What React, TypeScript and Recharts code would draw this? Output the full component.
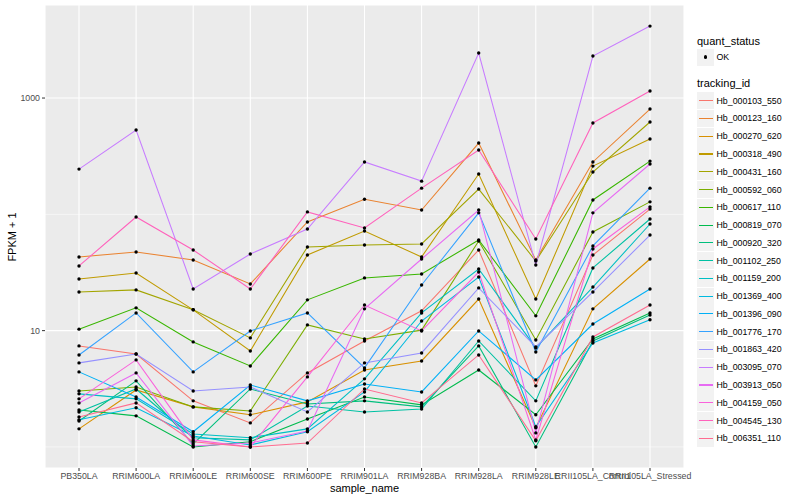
import React from "react";
import { CartesianGrid, ComposedChart, Line, ReferenceLine, XAxis, YAxis } from "recharts";

const samples = [
  "PB350LA",
  "RRIM600LA",
  "RRIM600LE",
  "RRIM600SE",
  "RRIM600PE",
  "RRIM901LA",
  "RRIM928BA",
  "RRIM928LA",
  "RRIM928LE",
  "RRII105LA_Control",
  "RRII105LA_Stressed",
];

const trackingIds = [
  "Hb_000103_550",
  "Hb_000123_160",
  "Hb_000270_620",
  "Hb_000318_490",
  "Hb_000431_160",
  "Hb_000592_060",
  "Hb_000617_110",
  "Hb_000819_070",
  "Hb_000920_320",
  "Hb_001102_250",
  "Hb_001159_200",
  "Hb_001369_400",
  "Hb_001396_090",
  "Hb_001776_170",
  "Hb_001863_420",
  "Hb_003095_070",
  "Hb_003913_050",
  "Hb_004159_050",
  "Hb_004545_130",
  "Hb_006351_110",
];

const palette = [
  "#F8766D", "#EA8331", "#D89000", "#C09B00", "#A3A500",
  "#7CAE00", "#39B600", "#00BB4E", "#00BF7D", "#00C1A3",
  "#00BFC4", "#00BAE0", "#00B0F6", "#35A2FF", "#9590FF",
  "#C77CFF", "#E76BF3", "#FA62DB", "#FF62BC", "#FF6C90",
];

// FPKM + 1, one value per sample
const hb000103_550 = [7.39, 6.3, 2.49, 1.61, 4.33, 8.15, 14.8, 49.4, 3.35, 44.7, 111];
const hb000123_160 = [43.0, 47.5, 40.5, 25.2, 86.0, 135, 109, 410, 40.5, 282, 804];
const hb000270_620 = [1.43, 3.09, 2.21, 1.89, 2.44, 4.59, 5.49, 18.7, 1.46, 15.4, 41.3];
const hb000318_490 = [27.8, 31.3, 15.1, 6.69, 44.7, 71.9, 43.0, 222, 18.7, 260, 444];
const hb000431_160 = [21.5, 22.4, 15.1, 8.66, 52.4, 54.5, 55.6, 165, 39.7, 231, 622];
const hb000592_060 = [3.03, 3.28, 2.21, 2.04, 11.2, 8.49, 10.1, 59.0, 8.32, 70.5, 128];
const hb000617_110 = [10.3, 15.7, 8.0, 4.97, 18.4, 28.4, 30.7, 60.2, 13.4, 133, 287];
const hb000819_070 = [2.08, 1.85, 1.0, 1.11, 1.74, 2.69, 2.3, 4.59, 1.89, 8.49, 14.2];
const hb000920_320 = [1.67, 3.7, 1.06, 3.15, 2.34, 2.49, 2.21, 7.39, 1.0, 8.15, 13.6];
const hb001102_250 = [2.0, 3.15, 1.2, 1.15, 2.25, 2.0, 2.12, 8.15, 2.49, 34.6, 91.2];
const hb001159_200 = [2.86, 2.59, 1.29, 1.2, 1.43, 3.85, 14.2, 33.9, 7.1, 23.7, 82.6];
const hb001369_400 = [1.71, 2.17, 1.24, 1.04, 1.35, 2.97, 12.1, 28.9, 1.49, 7.84, 12.4];
const hb001396_090 = [4.42, 2.69, 1.35, 3.41, 2.49, 3.48, 2.97, 9.94, 3.77, 11.4, 22.8];
const hb001776_170 = [6.18, 14.2, 4.42, 9.94, 14.2, 4.78, 24.7, 103, 6.56, 53.5, 168];
const hb001863_420 = [5.28, 6.3, 3.03, 3.28, 2.0, 5.28, 6.43, 23.3, 7.24, 21.5, 66.4];
const hb003095_070 = [245, 531, 22.8, 45.6, 74.8, 282, 193, 2437, 36.7, 2296, 4157];
const hb003913_050 = [2.39, 4.33, 1.02, 1.08, 1.37, 15.4, 41.3, 109, 1.32, 103, 271];
const hb004159_050 = [2.59, 5.6, 1.15, 1.0, 4.0, 16.6, 9.94, 31.9, 1.15, 50.4, 116];
const hb004545_130 = [36.0, 94.9, 49.4, 22.8, 105, 76.3, 168, 357, 61.4, 610, 1148];
const hb006351_110 = [1.81, 2.39, 1.11, 1.0, 1.08, 3.15, 2.39, 6.18, 1.13, 8.83, 16.6];

const seriesValues = [
  hb000103_550, hb000123_160, hb000270_620, hb000318_490, hb000431_160,
  hb000592_060, hb000617_110, hb000819_070, hb000920_320, hb001102_250,
  hb001159_200, hb001369_400, hb001396_090, hb001776_170, hb001863_420,
  hb003095_070, hb003913_050, hb004159_050, hb004545_130, hb006351_110,
];

const yTicks = [10, 1000];
const yMinor = [1, 100];

const rows = samples.map((sample, i) => {
  const row: Record<string, string | number> = { sample };
  seriesValues.forEach((vals, k) => {
    row[`s${k}`] = vals[i];
  });
  return row;
});

const axisText = { fill: "#4D4D4D", fontSize: 8.8 };

const Text = ({ x, cy, size, children }: { x: number; cy: number; size: number; children: React.ReactNode }) => (
  <div style={{ position: "absolute", left: x, top: cy - 10, height: 20, lineHeight: "20px", fontSize: size, color: "#000", whiteSpace: "nowrap" }}>
    {children}
  </div>
);

const KEY = 17.28;

const LegendKey = ({ cy, color, dot }: { cy: number; color?: string; dot?: boolean }) => (
  <div style={{ position: "absolute", left: 697, top: cy - KEY / 2, width: KEY, height: KEY, background: "#F2F2F2" }}>
    {color && <div style={{ position: "absolute", left: 1.7, right: 1.7, top: KEY / 2 - 0.55, height: 1.1, background: color }} />}
    {dot && <div style={{ position: "absolute", left: KEY / 2 - 1.8, top: KEY / 2 - 1.8, width: 3.6, height: 3.6, borderRadius: "50%", background: "#000" }} />}
  </div>
);

export default function App() {
  return (
    <div style={{ position: "absolute", left: 0, top: 0, width: 800, height: 500, background: "#fff", fontFamily: "'Liberation Sans', Arial, sans-serif" }}>
      <ComposedChart width={800} height={500} data={rows} margin={{ top: 5, right: 116, bottom: 0, left: 0 }}>
        <CartesianGrid fill="#EBEBEB" fillOpacity={1} stroke="#FFFFFF" strokeWidth={1.07} />
        {yMinor.map((v) => (
          <ReferenceLine key={v} y={v} stroke="#FFFFFF" strokeWidth={0.53} />
        ))}
        <XAxis
          dataKey="sample"
          type="category"
          interval={0}
          padding={{ left: 34, right: 34 }}
          height={32}
          tickSize={3}
          tickMargin={2}
          axisLine={false}
          tick={axisText}
          tickLine={{ stroke: "#333333" }}
        />
        <YAxis
          type="number"
          scale="log"
          domain={[0.659, 6310]}
          allowDataOverflow
          ticks={yTicks}
          width={45}
          tickSize={3}
          tickMargin={2}
          axisLine={false}
          tick={axisText}
          tickLine={{ stroke: "#333333" }}
        />
        {seriesValues.map((_, k) => (
          <Line
            key={`l${k}`}
            dataKey={`s${k}`}
            type="linear"
            stroke={palette[k]}
            strokeWidth={1.07}
            dot={false}
            activeDot={false}
            isAnimationActive={false}
          />
        ))}
        {seriesValues.map((_, k) => (
          <Line
            key={`d${k}`}
            dataKey={`s${k}`}
            type="linear"
            stroke="none"
            dot={{ r: 1.7, fill: "#000", stroke: "none" }}
            activeDot={false}
            legendType="none"
            isAnimationActive={false}
          />
        ))}
      </ComposedChart>

      <div style={{ position: "absolute", left: 12, top: 236.5, transform: "translate(-50%, -50%) rotate(-90deg)", fontSize: 11, whiteSpace: "nowrap" }}>
        FPKM + 1
      </div>
      <div style={{ position: "absolute", left: 364.5, top: 488, transform: "translate(-50%, -50%)", fontSize: 11, whiteSpace: "nowrap" }}>
        sample_name
      </div>

      <Text x={697} cy={40.7} size={11}>quant_status</Text>
      <LegendKey cy={57.3} dot />
      <Text x={716.5} cy={57.3} size={8.8}>OK</Text>

      <Text x={697} cy={83.3} size={11}>tracking_id</Text>
      {trackingIds.map((id, k) => {
        const cy = 100.7 + k * 17.77;
        return (
          <React.Fragment key={id}>
            <LegendKey cy={cy} color={palette[k]} />
            <Text x={716.5} cy={cy} size={8.8}>{id}</Text>
          </React.Fragment>
        );
      })}
    </div>
  );
}
